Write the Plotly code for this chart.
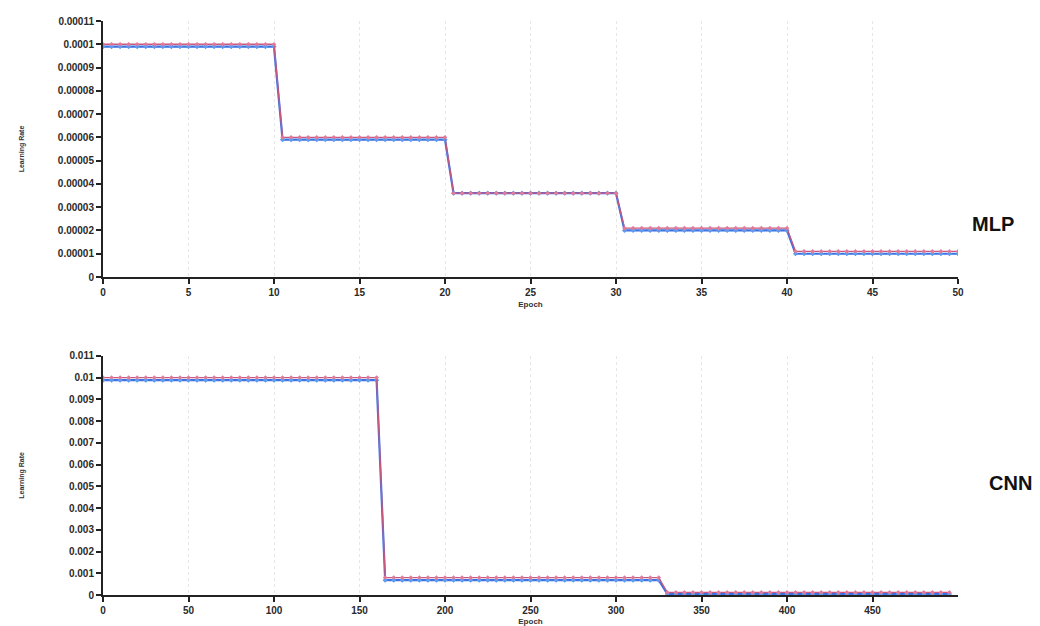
import plotly.graph_objects as go
from plotly.subplots import make_subplots

# ---------------- data ----------------
# MLP: learning rate logged every half epoch (0 .. 50)
mlp_epoch = [i * 0.5 for i in range(101)]
mlp_lr_pink = [
    1.0e-4, 1.0e-4, 1.0e-4, 1.0e-4, 1.0e-4, 1.0e-4, 1.0e-4, 1.0e-4, 1.0e-4, 1.0e-4,
    1.0e-4, 1.0e-4, 1.0e-4, 1.0e-4, 1.0e-4, 1.0e-4, 1.0e-4, 1.0e-4, 1.0e-4, 1.0e-4,
    1.0e-4,
    6.0e-5, 6.0e-5, 6.0e-5, 6.0e-5, 6.0e-5, 6.0e-5, 6.0e-5, 6.0e-5, 6.0e-5, 6.0e-5,
    6.0e-5, 6.0e-5, 6.0e-5, 6.0e-5, 6.0e-5, 6.0e-5, 6.0e-5, 6.0e-5, 6.0e-5, 6.0e-5,
    3.6e-5, 3.6e-5, 3.6e-5, 3.6e-5, 3.6e-5, 3.6e-5, 3.6e-5, 3.6e-5, 3.6e-5, 3.6e-5,
    3.6e-5, 3.6e-5, 3.6e-5, 3.6e-5, 3.6e-5, 3.6e-5, 3.6e-5, 3.6e-5, 3.6e-5, 3.6e-5,
    2.1e-5, 2.1e-5, 2.1e-5, 2.1e-5, 2.1e-5, 2.1e-5, 2.1e-5, 2.1e-5, 2.1e-5, 2.1e-5,
    2.1e-5, 2.1e-5, 2.1e-5, 2.1e-5, 2.1e-5, 2.1e-5, 2.1e-5, 2.1e-5, 2.1e-5, 2.1e-5,
    1.1e-5, 1.1e-5, 1.1e-5, 1.1e-5, 1.1e-5, 1.1e-5, 1.1e-5, 1.1e-5, 1.1e-5, 1.1e-5,
    1.1e-5, 1.1e-5, 1.1e-5, 1.1e-5, 1.1e-5, 1.1e-5, 1.1e-5, 1.1e-5, 1.1e-5, 1.1e-5,
]
mlp_lr_blue = [
    9.9e-5, 9.9e-5, 9.9e-5, 9.9e-5, 9.9e-5, 9.9e-5, 9.9e-5, 9.9e-5, 9.9e-5, 9.9e-5,
    9.9e-5, 9.9e-5, 9.9e-5, 9.9e-5, 9.9e-5, 9.9e-5, 9.9e-5, 9.9e-5, 9.9e-5, 9.9e-5,
    9.9e-5,
    5.9e-5, 5.9e-5, 5.9e-5, 5.9e-5, 5.9e-5, 5.9e-5, 5.9e-5, 5.9e-5, 5.9e-5, 5.9e-5,
    5.9e-5, 5.9e-5, 5.9e-5, 5.9e-5, 5.9e-5, 5.9e-5, 5.9e-5, 5.9e-5, 5.9e-5, 5.9e-5,
    3.6e-5, 3.6e-5, 3.6e-5, 3.6e-5, 3.6e-5, 3.6e-5, 3.6e-5, 3.6e-5, 3.6e-5, 3.6e-5,
    3.6e-5, 3.6e-5, 3.6e-5, 3.6e-5, 3.6e-5, 3.6e-5, 3.6e-5, 3.6e-5, 3.6e-5, 3.6e-5,
    2.0e-5, 2.0e-5, 2.0e-5, 2.0e-5, 2.0e-5, 2.0e-5, 2.0e-5, 2.0e-5, 2.0e-5, 2.0e-5,
    2.0e-5, 2.0e-5, 2.0e-5, 2.0e-5, 2.0e-5, 2.0e-5, 2.0e-5, 2.0e-5, 2.0e-5, 2.0e-5,
    1.0e-5, 1.0e-5, 1.0e-5, 1.0e-5, 1.0e-5, 1.0e-5, 1.0e-5, 1.0e-5, 1.0e-5, 1.0e-5,
    1.0e-5, 1.0e-5, 1.0e-5, 1.0e-5, 1.0e-5, 1.0e-5, 1.0e-5, 1.0e-5, 1.0e-5, 1.0e-5,
]

# CNN: learning rate logged every 5 epochs (0 .. 495)
cnn_epoch = list(range(0, 500, 5))
cnn_lr_pink = [
    0.0100, 0.0100, 0.0100, 0.0100, 0.0100, 0.0100, 0.0100, 0.0100, 0.0100, 0.0100,
    0.0100, 0.0100, 0.0100, 0.0100, 0.0100, 0.0100, 0.0100, 0.0100, 0.0100, 0.0100,
    0.0100, 0.0100, 0.0100, 0.0100, 0.0100, 0.0100, 0.0100, 0.0100, 0.0100, 0.0100,
    0.0100, 0.0100, 0.0100,
    0.0008, 0.0008, 0.0008, 0.0008, 0.0008, 0.0008, 0.0008, 0.0008, 0.0008, 0.0008,
    0.0008, 0.0008, 0.0008, 0.0008, 0.0008, 0.0008, 0.0008, 0.0008, 0.0008, 0.0008,
    0.0008, 0.0008, 0.0008, 0.0008, 0.0008, 0.0008, 0.0008, 0.0008, 0.0008, 0.0008,
    0.0008, 0.0008, 0.0008,
    0.00012, 0.00012, 0.00012, 0.00012, 0.00012, 0.00012, 0.00012, 0.00012, 0.00012, 0.00012,
    0.00012, 0.00012, 0.00012, 0.00012, 0.00012, 0.00012, 0.00012, 0.00012, 0.00012, 0.00012,
    0.00012, 0.00012, 0.00012, 0.00012, 0.00012, 0.00012, 0.00012, 0.00012, 0.00012, 0.00012,
    0.00012, 0.00012, 0.00012, 0.00012,
]
cnn_lr_blue = [
    0.00988, 0.00988, 0.00988, 0.00988, 0.00988, 0.00988, 0.00988, 0.00988, 0.00988, 0.00988,
    0.00988, 0.00988, 0.00988, 0.00988, 0.00988, 0.00988, 0.00988, 0.00988, 0.00988, 0.00988,
    0.00988, 0.00988, 0.00988, 0.00988, 0.00988, 0.00988, 0.00988, 0.00988, 0.00988, 0.00988,
    0.00988, 0.00988, 0.00988,
    0.00068, 0.00068, 0.00068, 0.00068, 0.00068, 0.00068, 0.00068, 0.00068, 0.00068, 0.00068,
    0.00068, 0.00068, 0.00068, 0.00068, 0.00068, 0.00068, 0.00068, 0.00068, 0.00068, 0.00068,
    0.00068, 0.00068, 0.00068, 0.00068, 0.00068, 0.00068, 0.00068, 0.00068, 0.00068, 0.00068,
    0.00068, 0.00068, 0.00068,
    0.00005, 0.00005, 0.00005, 0.00005, 0.00005, 0.00005, 0.00005, 0.00005, 0.00005, 0.00005,
    0.00005, 0.00005, 0.00005, 0.00005, 0.00005, 0.00005, 0.00005, 0.00005, 0.00005, 0.00005,
    0.00005, 0.00005, 0.00005, 0.00005, 0.00005, 0.00005, 0.00005, 0.00005, 0.00005, 0.00005,
    0.00005, 0.00005, 0.00005, 0.00005,
]

mlp_xticks = [0, 5, 10, 15, 20, 25, 30, 35, 40, 45, 50]
cnn_xticks = [0, 50, 100, 150, 200, 250, 300, 350, 400, 450]
panel_labels = ["MLP", "CNN"]

# ---------------- figure ----------------
BLUE = "#3f6fe0"
BLUE_M = "#5a9cf0"
PINK = "#c8587e"
PINK_M = "#e07a98"
FONT = "Liberation Sans"

fig = make_subplots(rows=2, cols=1, vertical_spacing=0.0)

def add_pair(x, yb, yp, row):
    fig.add_trace(go.Scatter(
        x=x, y=yb, mode="lines+markers",
        line=dict(color=BLUE, width=2.2),
        marker=dict(color=BLUE_M, size=4, symbol="diamond"),
        showlegend=False), row=row, col=1)
    fig.add_trace(go.Scatter(
        x=x, y=yp, mode="lines+markers",
        line=dict(color=PINK, width=1.3),
        marker=dict(color=PINK_M, size=3.5, symbol="diamond"),
        showlegend=False), row=row, col=1)

add_pair(mlp_epoch, mlp_lr_blue, mlp_lr_pink, 1)
add_pair(cnn_epoch, cnn_lr_blue, cnn_lr_pink, 2)

axis_common = dict(
    showline=True, linecolor="#222", linewidth=2, ticks="outside",
    ticklen=5, tickcolor="#222", tickwidth=1.5,
    tickfont=dict(family=FONT, size=10, color="#2a2a2a", weight="bold"),
    mirror=False, zeroline=False,
)

fig.update_xaxes(**axis_common, showgrid=True, gridcolor="#e6e6e6", griddash="dot",
                 gridwidth=1)
fig.update_yaxes(**axis_common, showgrid=False)

title_font = dict(family=FONT, size=8, color="#333", weight="bold")
ytitle_font = dict(family=FONT, size=7, color="#333", weight="bold")
fig.update_xaxes(range=[0, 50], tickvals=mlp_xticks, row=1, col=1,
                 title=dict(text="Epoch", font=title_font, standoff=4))
fig.update_xaxes(range=[0, 500], tickvals=cnn_xticks, row=2, col=1,
                 title=dict(text="Epoch", font=title_font, standoff=4))
fig.update_yaxes(range=[0, 0.00011], dtick=0.00001, tickformat=".5~f", row=1, col=1,
                 title=dict(text="Learning Rate", font=ytitle_font, standoff=32))
fig.update_yaxes(range=[0, 0.011], dtick=0.001, tickformat=".3~f", row=2, col=1,
                 title=dict(text="Learning Rate", font=ytitle_font, standoff=44))

fig.update_layout(
    width=1040, height=626,
    margin=dict(l=103, r=82, t=21, b=31, autoexpand=False),
    paper_bgcolor="white", plot_bgcolor="white",
    xaxis=dict(domain=[0, 1]),
    yaxis=dict(domain=[0.554, 1.0]),
    yaxis2=dict(domain=[0.0, 0.4167]),
)

fig.add_annotation(text="<b>" + panel_labels[0] + "</b>", xref="paper", yref="paper",
                   x=1.068, y=0.647, showarrow=False, xanchor="right", yanchor="middle",
                   font=dict(family=FONT, size=20, color="#111"))
fig.add_annotation(text="<b>" + panel_labels[1] + "</b>", xref="paper", yref="paper",
                   x=1.089, y=0.195, showarrow=False, xanchor="right", yanchor="middle",
                   font=dict(family=FONT, size=20, color="#111"))

fig.write_html("out.html", config={"displayModeBar": False},
               post_script="document.body.style.margin='0';document.body.style.overflow='hidden';")
